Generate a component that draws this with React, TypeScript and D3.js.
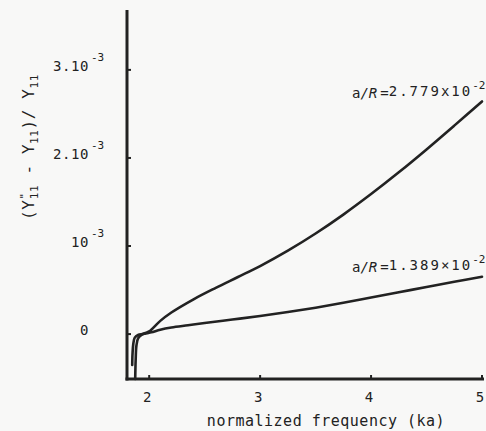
import React from "react";
import * as d3 from "d3";

// Series a/R = 2.779e-2 (values in units of 1e-3)
const freqA = [1.874, 1.878, 1.885, 1.9, 1.93, 1.96, 2.0, 2.1, 2.2, 2.4, 2.6, 2.8, 3.0, 3.25, 3.5, 3.75, 4.0, 4.25, 4.5, 4.75, 5.0];
const valA = [-0.51, -0.3, -0.13, -0.05, -0.01, 0.01, 0.03, 0.15, 0.245, 0.395, 0.525, 0.648, 0.772, 0.947, 1.142, 1.357, 1.59, 1.837, 2.097, 2.367, 2.642];

// Series a/R = 1.389e-2 (values in units of 1e-3)
const freqB = [1.847, 1.85, 1.857, 1.87, 1.9, 1.94, 1.98, 2.02, 2.1, 2.2, 2.35, 2.5, 2.75, 3.0, 3.25, 3.5, 3.75, 4.0, 4.25, 4.5, 4.75, 5.0];
const valB = [-0.35, -0.22, -0.11, -0.04, -0.01, 0.0, 0.01, 0.02, 0.05, 0.075, 0.1, 0.125, 0.165, 0.205, 0.25, 0.3, 0.355, 0.415, 0.475, 0.535, 0.595, 0.65];

const xTicks = [2, 3, 4, 5];
const xTickLabels = ["2", "3", "4", "5"];
const yTicks = [0, 1, 2, 3];
const yTickLabels = ["0", "10", "2.10", "3.10"];
const yTickSup = ["", "-3", "-3", "-3"];

const xDomain = [1.8, 5];
const yDomain = [-0.51, 3.68];

const W = 486;
const H = 431;
const INK = "#222222";
const MONO = "'DejaVu Sans Mono', 'Liberation Mono', monospace";

export default function App() {
  const x = d3.scaleLinear().domain(xDomain).range([127, 482]);
  const y = d3.scaleLinear().domain(yDomain).range([379, 10]);
  const line = d3
    .line<[number, number]>()
    .x((d) => x(d[0]))
    .y((d) => y(d[1]))
    .curve(d3.curveCatmullRom.alpha(0.5));
  const dataA = freqA.map((f, i) => [f, valA[i]] as [number, number]);
  const dataB = freqB.map((f, i) => [f, valB[i]] as [number, number]);
  const x0 = x(xDomain[0]);
  const y0 = y(yDomain[0]);

  return (
    <svg
      width={W}
      height={H}
      viewBox={`0 0 ${W} ${H}`}
      style={{ position: "fixed", left: 0, top: 0, background: "#f8f8f7" }}
      fontFamily={MONO}
    >
      <rect x={0} y={0} width={W} height={H} fill="#f8f8f7" />
      {/* axes */}
      <line x1={x0} x2={x0} y1={y(yDomain[1])} y2={y0 + 1.5} stroke={INK} strokeWidth={3} />
      <line x1={x0 - 1.5} x2={x(xDomain[1]) + 2} y1={y0} y2={y0} stroke={INK} strokeWidth={3} />
      {/* y ticks */}
      {yTicks.map((t, i) => (
        <g key={"yt" + i}>
          <line x1={x0} x2={x0 + 4} y1={y(t)} y2={y(t)} stroke={INK} strokeWidth={2} />
          <text x={89} y={y(t) + 1} textAnchor="end" fontSize={14} letterSpacing={0.6} fill={INK}>
            {yTickLabels[i]}
          </text>
          {yTickSup[i] && (
            <text x={91} y={y(t) - 9} fontSize={11} fill={INK}>
              {yTickSup[i]}
            </text>
          )}
        </g>
      ))}
      {/* x ticks */}
      {xTicks.map((t, i) => (
        <g key={"xt" + i}>
          <line x1={x(t)} x2={x(t)} y1={y0} y2={y0 - 4} stroke={INK} strokeWidth={2} />
          <text x={x(t) - 2} y={402} textAnchor="middle" fontSize={14} fill={INK}>
            {xTickLabels[i]}
          </text>
        </g>
      ))}
      {/* curves */}
      <path d={line(dataA) || ""} fill="none" stroke={INK} strokeWidth={2.6} strokeLinecap="round" />
      <path d={line(dataB) || ""} fill="none" stroke={INK} strokeWidth={2.6} strokeLinecap="round" />
      {/* annotations */}
      <text x={352} y={98} fontSize={14} fill={INK}>
        <tspan>a</tspan>
        <tspan fontStyle="italic">/R</tspan>
        <tspan dx={3}>=</tspan>
        <tspan dy={-2} letterSpacing={2}>2.779x10</tspan>
        <tspan dy={-7} fontSize={11}>-2</tspan>
      </text>
      <text x={352} y={272} fontSize={14} fill={INK}>
        <tspan>a</tspan>
        <tspan fontStyle="italic">/R</tspan>
        <tspan dx={3}>=</tspan>
        <tspan dy={-2} letterSpacing={2}>1.389×10</tspan>
        <tspan dy={-7} fontSize={11}>-2</tspan>
      </text>
      {/* x label */}
      <text x={326} y={426} textAnchor="middle" fontSize={15} letterSpacing={0.5} fill={INK}>
        normalized frequency (ka)
      </text>
      {/* y label */}
      <text transform="translate(34,147) rotate(-90)" textAnchor="middle" fontSize={16} fill={INK} letterSpacing={0.6}>
        <tspan>(Y</tspan>
        <tspan dy={-6} fontSize={11}>"</tspan>
        <tspan dx={-7} dy={10} fontSize={11}>11</tspan>
        <tspan dy={-4}>  -  Y</tspan>
        <tspan dy={4} fontSize={11}>11</tspan>
        <tspan dy={-4}>)/ Y</tspan>
        <tspan dy={4} fontSize={11}>11</tspan>
      </text>
    </svg>
  );
}
